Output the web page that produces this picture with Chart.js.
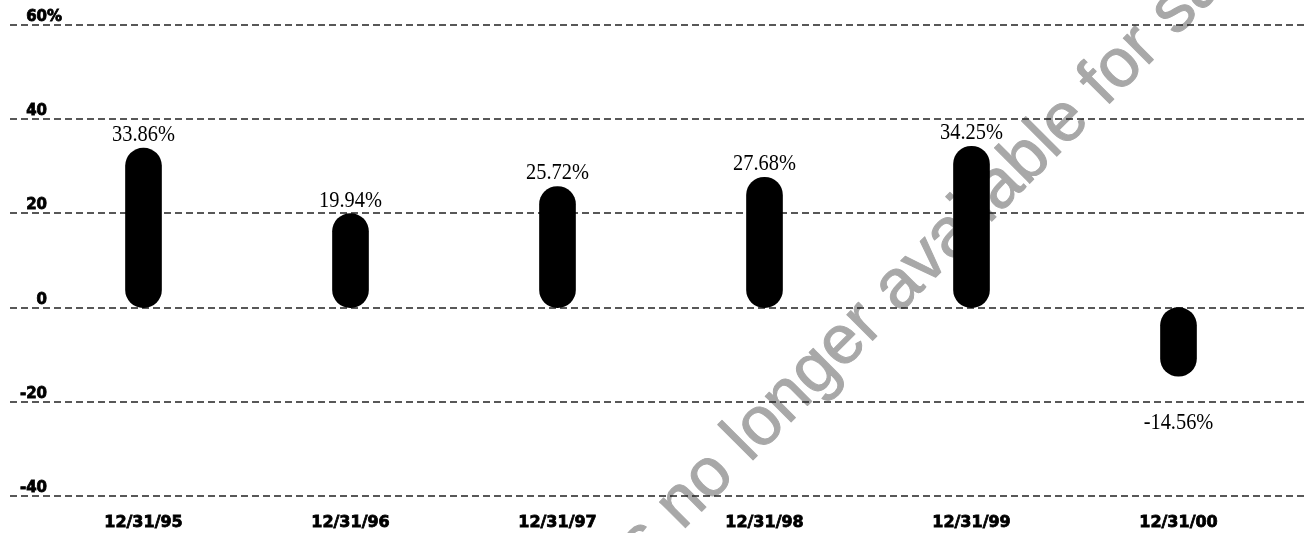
<!DOCTYPE html>
<html lang="en">
<head>
  <meta charset="UTF-8">
  <title>Calendar Year Returns</title>
  <script src="https://cdn.jsdelivr.net/npm/chart.js"></script>
  <style>
    html, body {
      margin: 0;
      padding: 0;
      background: #fff;
    }
    #chartContainer {
      width: 1307px;
      height: 533px;
    }
  </style>
</head>
<body>
  <div id="chartContainer">
    <canvas id="returnsChart" width="1307" height="533"></canvas>
  </div>
  <script>
    // Datos del grafico
    const periods = ['12/31/95', '12/31/96', '12/31/97', '12/31/98', '12/31/99', '12/31/00'];
    const returns = [33.86, 19.94, 25.72, 27.68, 34.25, -14.56];
    const yTicks = [-40, -20, 0, 20, 40, 60];
    const watermarkHead = 'This fund is ';
    const watermarkTail = 'no longer available for sale';

    // Marca de agua gris, debajo de todo
    const watermarkPlugin = {
      id: 'watermark',
      beforeDraw(chart) {
        const ctx = chart.ctx;
        ctx.save();
        ctx.translate(682, 531);
        ctx.rotate(-45 * Math.PI / 180);
        ctx.font = '69px "Liberation Sans", Arial, sans-serif';
        ctx.fillStyle = '#a8a8a8';
        ctx.strokeStyle = '#a8a8a8';
        ctx.lineWidth = 1;
        ctx.lineJoin = 'round';
        ctx.textBaseline = 'alphabetic';
        ctx.textAlign = 'right';
        ctx.fillText(watermarkHead, 0, 0);
        ctx.strokeText(watermarkHead, 0, 0);
        ctx.textAlign = 'left';
        ctx.fillText(watermarkTail, 0, 0);
        ctx.strokeText(watermarkTail, 0, 0);
        ctx.restore();
      }
    };

    // Lineas punteadas y etiquetas del eje Y
    const gridPlugin = {
      id: 'dashedGrid',
      beforeDatasetsDraw(chart) {
        const ctx = chart.ctx;
        const y = chart.scales.y;
        ctx.save();
        ctx.strokeStyle = '#222';
        ctx.lineWidth = 1.5;
        ctx.setLineDash([7, 4]);
        yTicks.forEach(v => {
          const py = Math.round(y.getPixelForValue(v));
          ctx.beginPath();
          ctx.moveTo(10, py);
          ctx.lineTo(chart.width, py);
          ctx.stroke();
        });
        ctx.setLineDash([]);
        ctx.fillStyle = '#000';
        ctx.strokeStyle = '#000';
        ctx.lineWidth = 0.8;
        ctx.font = 'bold 15px "DejaVu Sans", sans-serif';
        ctx.textBaseline = 'alphabetic';
        yTicks.forEach(v => {
          const py = y.getPixelForValue(v) - 4;
          ctx.textAlign = 'right';
          ctx.fillText(String(v), 47, py);
          ctx.strokeText(String(v), 47, py);
          if (v === yTicks[yTicks.length - 1]) {
            ctx.textAlign = 'left';
            ctx.fillText('%', 47, py);
            ctx.strokeText('%', 47, py);
          }
        });
        ctx.restore();
      }
    };

    // Valores encima / debajo de cada barra
    const valuePlugin = {
      id: 'barValues',
      afterDatasetsDraw(chart) {
        const ctx = chart.ctx;
        const bars = chart.getDatasetMeta(0).data;
        ctx.save();
        ctx.fillStyle = '#000';
        ctx.font = '24px "Liberation Serif", "Times New Roman", serif';
        ctx.textAlign = 'center';
        ctx.textBaseline = 'alphabetic';
        bars.forEach((bar, i) => {
          const v = returns[i];
          const text = v.toFixed(2) + '%';
          const ty = v >= 0 ? bar.y - 7 : bar.y + 53;
          ctx.save();
          ctx.translate(bar.x, ty);
          ctx.scale(0.85, 1);
          ctx.fillText(text, 0, 0);
          ctx.restore();
        });
        ctx.restore();
      }
    };

    const ctx = document.getElementById('returnsChart').getContext('2d');
    new Chart(ctx, {
      type: 'bar',
      data: {
        labels: periods,
        datasets: [{
          data: returns,
          backgroundColor: '#000',
          borderRadius: 18,
          borderSkipped: false,
          barThickness: 36
        }]
      },
      options: {
        responsive: false,
        animation: false,
        layout: {
          padding: { left: 40, right: 25, top: 25, bottom: 0 }
        },
        plugins: {
          legend: { display: false },
          tooltip: { enabled: false }
        },
        scales: {
          x: {
            grid: { display: false, drawTicks: false },
            border: { display: false },
            afterFit(scale) { scale.height = 37; },
            ticks: {
              color: '#000',
              padding: 17,
              maxRotation: 0,
              textStrokeColor: '#000',
              textStrokeWidth: 0.8,
              font: { family: '"DejaVu Sans", sans-serif', weight: 'bold', size: 16 }
            }
          },
          y: {
            display: false,
            min: -40,
            max: 60
          }
        }
      },
      plugins: [watermarkPlugin, gridPlugin, valuePlugin]
    });
  </script>
</body>
</html>
